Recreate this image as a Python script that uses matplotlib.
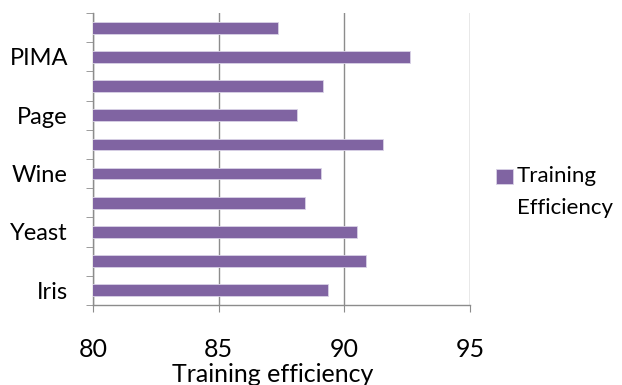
import matplotlib
matplotlib.use("Agg")
import matplotlib.pyplot as plt
import numpy as np

# datasets, bottom to top (only every other name fits on the axis)
categories = ["Iris", "", "Yeast", "", "Wine", "", "Page", "", "PIMA", ""]
efficiency = [89.36, 90.87, 90.51, 88.43, 89.08, 91.54, 88.11, 89.14, 92.61, 87.36]
series_name = "Training\nEfficiency"
xticks = [80, 85, 90, 95]

plt.rcParams["font.family"] = ["Lato", "DejaVu Sans"]

fig = plt.figure(figsize=(6.22, 3.85), dpi=100)
ax = fig.add_axes([0.1495, 0.208, 0.6061, 0.758])

pos = np.arange(len(categories))
ax.barh(pos, efficiency, height=0.4, left=0, color="#8064A2",
        edgecolor="#d9d2e6", linewidth=0.6, label=series_name, zorder=3)

ax.set_xlim(80, 95)
ax.set_ylim(-0.5, len(categories) - 0.5)
ax.set_xticks(xticks)
ax.set_xticklabels([str(v) for v in xticks], fontsize=18)
ax.set_yticks(pos)
ax.set_yticklabels(categories, fontsize=17)
ax.set_yticks(np.arange(-0.5, len(categories)), minor=True)

grid_c = "#8c8c8c"
ax.xaxis.grid(True, color=grid_c, linewidth=1.0, zorder=0)
for s in ["top", "right"]:
    ax.spines[s].set_visible(False)
for s in ["left", "bottom"]:
    ax.spines[s].set_color(grid_c)
    ax.spines[s].set_linewidth(1.0)

ax.tick_params(axis="y", which="major", length=0, pad=18)
ax.tick_params(axis="y", which="minor", length=5, color=grid_c, direction="out")
ax.tick_params(axis="x", length=5, color=grid_c, direction="out", pad=19)

ax.set_xlabel("Training efficiency", fontsize=18)
ax.xaxis.set_label_coords(0.477, -0.2)
ax.xaxis.label.set_va("top")

leg = ax.legend(loc="upper left", bbox_to_anchor=(496 / 622, 1 - 166 / 385),
                bbox_transform=fig.transFigure, frameon=False, fontsize=16,
                borderpad=0, borderaxespad=0, handlelength=0.75,
                handleheight=0.65, handletextpad=0.2)
leg.get_texts()[0].set_linespacing(1.75)
# keep the swatch level with the first line of the label
swatch = leg.get_patches()[0]
swatch.set_y(swatch.get_y() + 11)

fig.savefig("out.png", dpi=100)
